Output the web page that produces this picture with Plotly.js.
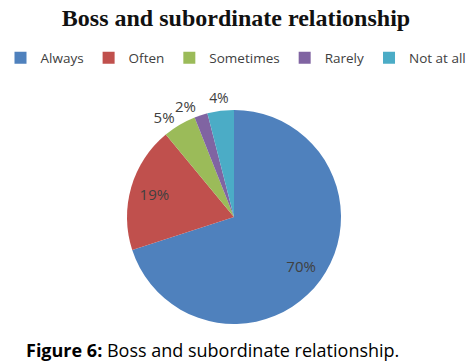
<!DOCTYPE html>
<html>
<head>
<meta charset="utf-8">
<script src="https://cdn.plot.ly/plotly-3.0.1.min.js"></script>
<style>html,body{margin:0;padding:0;background:#fff;}#chart{width:472px;height:363px;}</style>
</head>
<body>
<div id="chart"></div>
<script>
const categories = ['Always', 'Often', 'Sometimes', 'Rarely', 'Not at all'];
const values = [70, 19, 5, 2, 4];
const sliceColors = ['#4F81BD', '#C0504D', '#9BBB59', '#8064A2', '#4BACC6'];

const W = 472, H = 363;
const cx = 234, cy = 217, r = 107, rOuter = 134;
const domainFor = (rad) => ({ x: [(cx - rad) / W, (cx + rad) / W], y: [(H - cy - rad) / H, (H - cy + rad) / H] });
const labelFont = { family: 'Open Sans, sans-serif', size: 15, color: '#404040' };
const clear = categories.map(() => 'rgba(0,0,0,0)');

// main pie: slices + one outside label
const mainPie = {
  type: 'pie',
  labels: categories,
  values: values,
  sort: false,
  direction: 'clockwise',
  rotation: 0,
  marker: { colors: sliceColors, line: { width: 0 } },
  texttemplate: '%{percent:.0%}',
  textposition: ['none', 'none', 'outside', 'none', 'none'],
  textfont: labelFont,
  outsidetextfont: labelFont,
  domain: domainFor(r),
  hoverinfo: 'label+percent'
};

// transparent overlay (same data) carrying the inside labels and one outside label
const innerLabels = {
  type: 'pie',
  labels: categories,
  values: values,
  sort: false,
  direction: 'clockwise',
  rotation: 0,
  hole: 0.55,
  showlegend: false,
  marker: { colors: clear, line: { width: 0 } },
  texttemplate: '%{percent:.0%}',
  textposition: ['inside', 'inside', 'none', 'outside', 'none'],
  insidetextorientation: 'horizontal',
  textfont: labelFont,
  insidetextfont: labelFont,
  outsidetextfont: labelFont,
  domain: domainFor(r),
  hoverinfo: 'skip'
};

// transparent ring just outside the pie, carrying the last label
const outerLabels = {
  type: 'pie',
  labels: categories,
  values: values,
  sort: false,
  direction: 'clockwise',
  rotation: 0,
  hole: r / rOuter,
  showlegend: false,
  marker: { colors: clear, line: { width: 0 } },
  texttemplate: '%{percent:.0%}',
  textposition: ['none', 'none', 'none', 'none', 'inside'],
  insidetextorientation: 'horizontal',
  textfont: labelFont,
  insidetextfont: labelFont,
  domain: domainFor(rOuter),
  hoverinfo: 'skip'
};

const layout = {
  width: W, height: H,
  margin: { l: 0, r: 0, t: 0, b: 0 },
  paper_bgcolor: '#fff',
  title: {
    text: '<b>Boss and subordinate relationship</b>',
    font: { family: 'Liberation Serif, Times New Roman, serif', size: 24, color: '#111' },
    x: 0.5, xanchor: 'center', y: 1 - 18 / H, yanchor: 'middle'
  },
  showlegend: true,
  legend: {
    orientation: 'h', x: 0.5, xanchor: 'center', y: 1 - 58 / H, yanchor: 'middle',
    font: { family: 'Open Sans, sans-serif', size: 13.5, color: '#404040' },
    itemwidth: 30, tracegroupgap: 0
  },
  annotations: [{
    text: '<b>Figure 6:</b> Boss and subordinate relationship.',
    xref: 'paper', yref: 'paper', x: 24 / W, xanchor: 'left', y: 1 - 350 / H, yanchor: 'middle',
    showarrow: false,
    font: { family: 'Open Sans, sans-serif', size: 18, color: '#000' }
  }]
};

Plotly.newPlot('chart', [mainPie, innerLabels, outerLabels], layout, { displayModeBar: false, staticPlot: true });
</script>
</body>
</html>
